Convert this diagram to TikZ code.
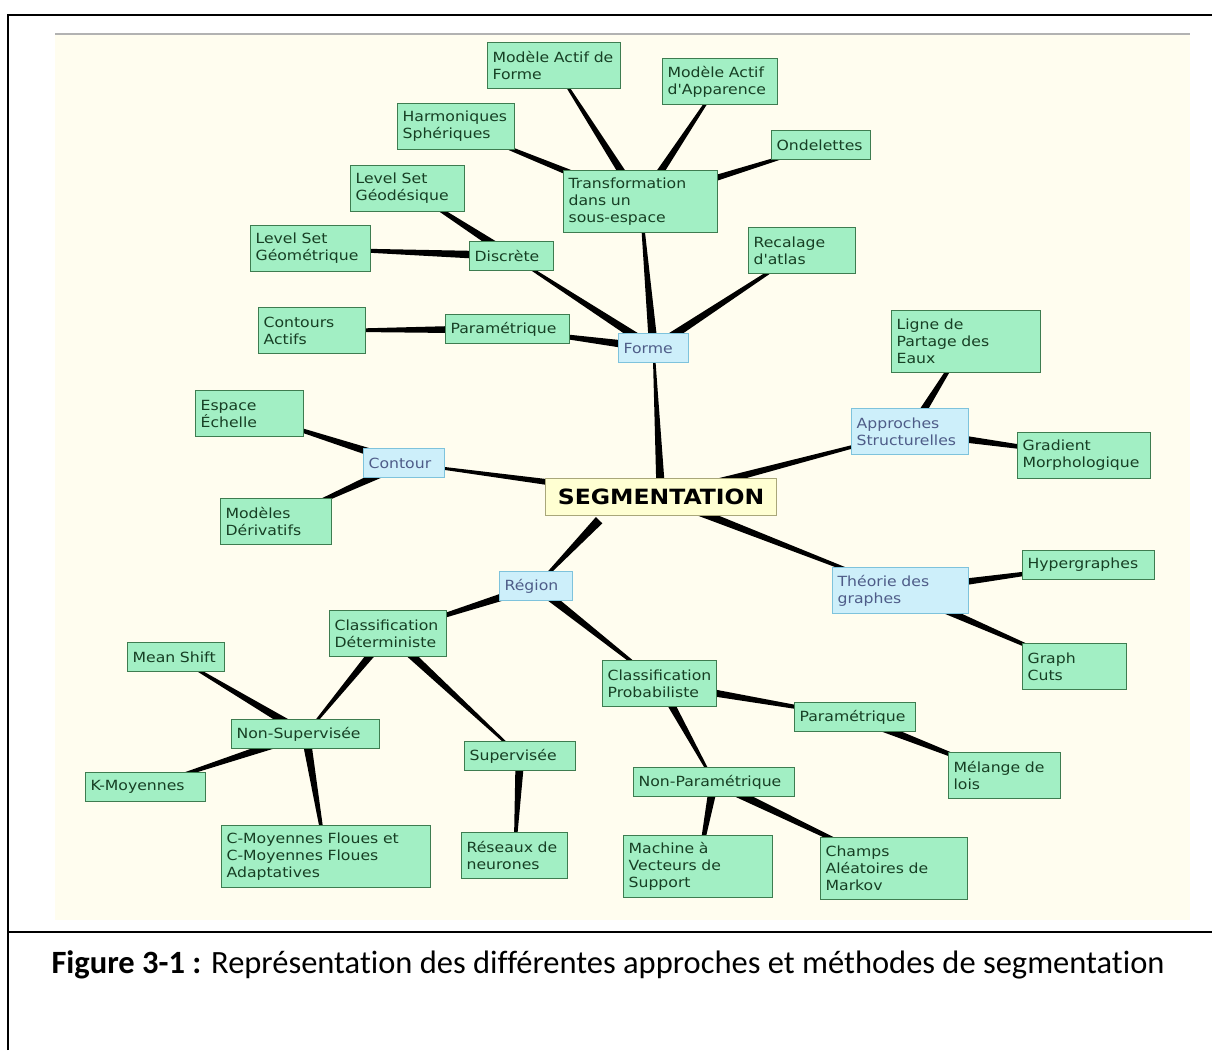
\documentclass[tikz,border=0pt]{standalone}
\usepackage{fontspec}
\usepackage{xcolor}
\usetikzlibrary{calc}
\newfontfamily\boxfont[FakeStretch=1.12]{DejaVu Sans}
\newfontfamily\capfont[Ligatures=NoCommon]{Carlito}

\definecolor{cream}{HTML}{FFFDEF}
\definecolor{mint}{HTML}{A2EFC4}
\definecolor{mintline}{HTML}{3E7C50}
\definecolor{minttext}{HTML}{173F24}
\definecolor{sky}{HTML}{CDEFFA}
\definecolor{skyline}{HTML}{7EC3DC}
\definecolor{skytext}{HTML}{4E5C88}
\definecolor{paleyellow}{HTML}{FFFFD2}
\definecolor{olive}{HTML}{A9A77A}

\pgfdeclarelayer{under}
\pgfsetlayers{under,main}

\tikzset{
  gbox/.style={draw=mintline, fill=mint, text=minttext, line width=1.2pt, anchor=north west,
    align=left, inner xsep=5pt, inner ysep=3pt, font=\boxfont\fontsize{14}{17}\selectfont},
  bbox/.style={gbox, draw=skyline, fill=sky, text=skytext},
  oneline/.style={minimum height=29pt},
  twolines/.style={minimum height=46pt},
  threelines/.style={minimum height=62pt},
}
% tapered branch: wide at the parent (#1), thin at the child (#2)
\newcommand{\twig}[2]{\fill ($(#1)!4.5pt!90:(#2)$) -- ($(#1)!4.5pt!-90:(#2)$)
  -- ($(#2)!0.9pt!90:(#1)$) -- ($(#2)!0.9pt!-90:(#1)$) -- cycle;}

\begin{document}
\begin{tikzpicture}[x=1pt, y=-1pt]
			\useasboundingbox (0,0) rectangle (1212,1050);
			% frame of the figure
			\draw[line width=2.5pt] (8,1050) -- (8,15) -- (1212,15);
			\draw[line width=2.5pt] (8,932) -- (1212,932);
			% background of the picture
			\begin{pgfonlayer}{under}
			\fill[cream] (55,33) rectangle (1190,920);
			\draw[gray!60, line width=1.5pt] (55,34) -- (1190,34);
			\end{pgfonlayer}

			% centre
			\node[draw=olive, fill=paleyellow, line width=1.2pt, anchor=north west, minimum width=231pt,
				minimum height=37pt, inner sep=2pt, font=\boxfont\bfseries\fontsize{21}{24}\selectfont] (seg) at (545,478) {SEGMENTATION};

			% first level (blue)
			\node[bbox, oneline, text width=60pt] (forme) at (618,333) {Forme};
			\node[bbox, oneline, text width=71pt] (cont) at (363,448) {Contour};
			\node[bbox, twolines, text width=107pt] (appr) at (851,408) {Approches\\Structurelles};
			\node[bbox, oneline, text width=63pt] (reg) at (499,571) {Région};
			\node[bbox, twolines, text width=126pt] (theo) at (832,567) {Théorie des\\graphes};

			% branch Forme
			\node[gbox, threelines, text width=144pt] (trans) at (563,170) {Transformation\\dans un\\sous-espace};
			\node[gbox, twolines, text width=123pt] (mafo) at (487,42) {Modèle Actif de\\Forme};
			\node[gbox, twolines, text width=105pt] (maap) at (662,58) {Modèle Actif\\d'Apparence};
			\node[gbox, twolines, text width=107pt] (harm) at (397,103) {Harmoniques\\Sphériques};
			\node[gbox, oneline, text width=89pt] (onde) at (771,130) {Ondelettes};
			\node[gbox, oneline, text width=74pt] (disc) at (469,241) {Discrète};
			\node[gbox, twolines, text width=104pt] (lsgd) at (350,165) {Level Set\\Géodésique};
			\node[gbox, twolines, text width=110pt] (lsgm) at (250,225) {Level Set\\Géométrique};
			\node[gbox, twolines, text width=97pt] (reca) at (748,227) {Recalage\\d'atlas};
			\node[gbox, oneline, text width=114pt] (para) at (445,314) {Paramétrique};
			\node[gbox, twolines, text width=97pt] (cact) at (258,307) {Contours\\Actifs};

			% branch Contour
			\node[gbox, twolines, text width=98pt] (esp) at (195,390) {Espace\\Échelle};
			\node[gbox, twolines, text width=101pt] (mder) at (220,498) {Modèles\\Dérivatifs};

			% branch Approches Structurelles
			\node[gbox, threelines, text width=139pt] (lpe) at (891,310) {Ligne de\\Partage des\\Eaux};
			\node[gbox, twolines, text width=123pt] (grad) at (1017,432) {Gradient\\Morphologique};

			% branch Théorie des graphes
			\node[gbox, oneline, text width=122pt] (hyp) at (1022,550) {Hypergraphes};
			\node[gbox, twolines, text width=94pt] (gcut) at (1022,643) {Graph\\Cuts};

			% branch Région
			\node[gbox, twolines, text width=107pt] (cdet) at (329,610) {Classification\\Déterministe};
			\node[gbox, twolines, text width=104pt] (cprob) at (602,660) {Classification\\Probabiliste};
			\node[gbox, oneline, text width=138pt] (nsup) at (231,719) {Non-Supervisée};
			\node[gbox, oneline, text width=101pt] (sup) at (464,741) {Supervisée};
			\node[gbox, oneline, text width=87pt] (mean) at (127,642) {Mean Shift};
			\node[gbox, oneline, text width=110pt] (kmoy) at (85,772) {K-Moyennes};
			\node[gbox, threelines, text width=199pt] (cmoy) at (221,825) {C-Moyennes Floues et\\C-Moyennes Floues\\Adaptatives};
			\node[gbox, twolines, text width=96pt] (rnn) at (461,832) {Réseaux de\\neurones};
			\node[gbox, oneline, text width=111pt] (para2) at (794,702) {Paramétrique};
			\node[gbox, oneline, text width=151pt] (npar) at (633,767) {Non-Paramétrique};
			\node[gbox, twolines, text width=102pt] (melo) at (948,752) {Mélange de\\lois};
			\node[gbox, threelines, text width=139pt] (mvs) at (623,835) {Machine à\\Vecteurs de\\Support};
			\node[gbox, threelines, text width=137pt] (cam) at (820,837) {Champs\\Aléatoires de\\Markov};

			% Draw branches (under the boxes)
			\coordinate (segreg) at ([xshift=-62pt, yshift=-4pt]seg.south);
			\begin{pgfonlayer}{under}
			\twig{segreg}{reg.center}
			\foreach \a/\b in {seg/forme, seg/cont, seg/appr, seg/theo,
				forme/trans, forme/disc, forme/para, forme/reca,
				trans/mafo, trans/maap, trans/harm, trans/onde,
				disc/lsgd, disc/lsgm, para/cact,
				cont/esp, cont/mder, appr/lpe, appr/grad, theo/hyp, theo/gcut,
				reg/cdet, reg/cprob, cdet/nsup, cdet/sup,
				nsup/mean, nsup/kmoy, nsup/cmoy, sup/rnn,
				cprob/para2, cprob/npar, para2/melo, npar/mvs, npar/cam}
			{\twig{\a.center}{\b.center}}
			\end{pgfonlayer}

			% caption
			\node[font=\capfont\fontsize{32.5}{36}\selectfont] (cap) at (608,965)
				{\textbf{Figure 3-1 :} Représentation des différentes approches et méthodes de segmentation};
		\end{tikzpicture}
\end{document}
